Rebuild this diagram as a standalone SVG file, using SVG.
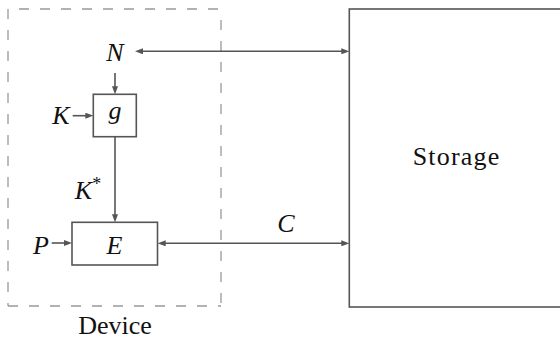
<svg xmlns="http://www.w3.org/2000/svg" width="560" height="340" viewBox="0 0 560 340">
<style>
.box{fill:#fff;stroke:#555;stroke-width:1.6}
.dash{fill:none;stroke:#999;stroke-width:1.3;stroke-dasharray:10 11}
.ln{fill:none;stroke:#555;stroke-width:1.6}
text{font-family:"Liberation Serif","Times New Roman",serif;font-size:26px;fill:#111;text-anchor:middle}
.m{font-style:italic}
</style>
<defs>
<marker id="ah" viewBox="0 0 8 6" refX="4" refY="3" markerWidth="8" markerHeight="6" orient="auto-start-reverse" markerUnits="userSpaceOnUse">
<path d="M0,0 L8,3 L0,6 Z" fill="#555"/>
</marker>
</defs>
<rect width="560" height="340" fill="#fff"/>
<g id="device">
<line class="dash" x1="8" y1="9" x2="8" y2="306"/>
<line class="dash" x1="19" y1="9" x2="221" y2="9"/>
<line class="dash" x1="8" y1="306" x2="221" y2="306"/>
<line class="dash" x1="221" y1="20" x2="221" y2="306"/>
<text x="115" y="334">Device</text>
</g>
<g id="storage">
<rect class="box" x="349.3" y="9" width="240" height="298"/>
<text x="456.6" y="165.3" letter-spacing="1.2">Storage</text>
</g>
<g id="g">
<rect class="box" x="93.3" y="94.3" width="43" height="42.4"/>
<text class="m" x="115" y="119">g</text>
</g>
<g id="E">
<rect class="box" x="72" y="222.3" width="85.5" height="42.7"/>
<text class="m" x="114.5" y="254.3">E</text>
</g>
<g id="labels">
<text class="m" x="115" y="60.7">N</text>
<text class="m" x="61" y="124.3">K</text>
<text class="m" x="88" y="199.3">K<tspan font-size="18" font-style="normal" dy="-9">*</tspan></text>
<text class="m" x="41" y="254">P</text>
<text class="m" x="286" y="231.7">C</text>
</g>
<g id="connectors">
<line class="ln" x1="139" y1="51.3" x2="345.3" y2="51.3" marker-start="url(#ah)" marker-end="url(#ah)"/>
<line class="ln" x1="115" y1="73" x2="115" y2="90.3" marker-end="url(#ah)"/>
<line class="ln" x1="72.7" y1="115.7" x2="89.3" y2="115.7" marker-end="url(#ah)"/>
<line class="ln" x1="115" y1="136.7" x2="115" y2="218.3" marker-end="url(#ah)"/>
<line class="ln" x1="51.7" y1="243" x2="68" y2="243" marker-end="url(#ah)"/>
<line class="ln" x1="161.7" y1="243.3" x2="345.3" y2="243.3" marker-start="url(#ah)" marker-end="url(#ah)"/>
</g>
</svg>
